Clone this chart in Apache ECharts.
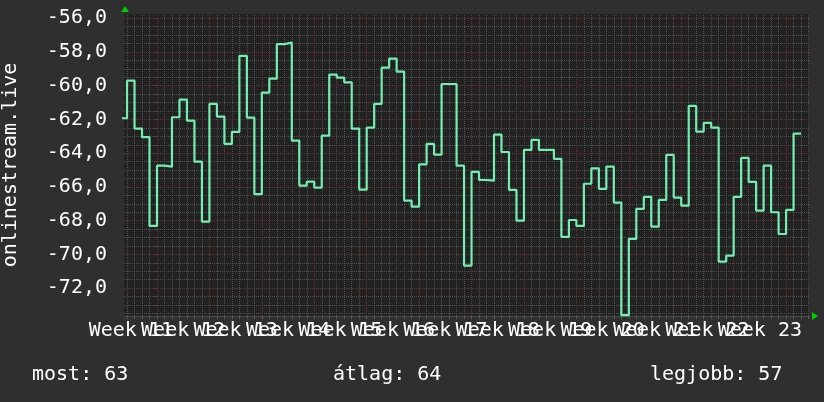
<!DOCTYPE html>
<html>
<head>
<meta charset="utf-8">
<script src="https://cdn.jsdelivr.net/npm/echarts@6/dist/echarts.min.js"></script>
<style>
html,body{margin:0;padding:0;background:#2f2f2f;}
#chart{width:824px;height:402px;}
</style>
</head>
<body>
<div id="chart"></div>
<script>
// Daily values (one per day), first value is day -5 relative to the start of Week 12
const startDay = -5;
const values = [
  -61.93, -59.70, -62.54, -63.05, -68.31,
  -64.74, -64.80, -61.87, -60.82, -62.07, -64.50, -68.06,
  -61.08, -61.83, -63.45, -62.74, -58.23, -61.89, -66.43,
  -60.41, -59.58, -57.54, -57.45, -63.25, -65.92, -65.69,
  -66.04, -62.96, -59.34, -59.52, -59.80, -62.54, -66.16,
  -62.48, -61.08, -58.93, -58.39, -59.16, -66.81, -67.17,
  -64.66, -63.45, -64.08, -59.90, -59.90, -64.74, -70.66,
  -65.11, -65.59, -65.63, -62.90, -63.93, -66.18, -68.00,
  -63.80, -63.21, -63.80, -63.80, -64.34, -68.96, -67.96,
  -68.31, -65.81, -64.90, -66.12, -64.80, -66.93, -73.60,
  -69.08, -67.30, -66.59, -68.35, -66.77, -64.10, -66.63,
  -67.11, -61.20, -62.72, -62.20, -62.48, -70.43, -70.07,
  -66.59, -64.28, -65.70, -67.40, -64.74, -67.50, -68.79,
  -67.36, -62.84
];
const weekNumbers = [11,12,13,14,15,16,17,18,19,20,21,22,23];
const yTickValues = [-72,-70,-68,-66,-64,-62,-60,-58,-56];
const footerTexts = ['most: 63', 'átlag: 64', 'legjobb: 57'];

const X_MIN = -4.406, X_MAX = 87.06;
const Y_MIN = -73.65, Y_MAX = -55.75;

// step data: each value holds for one day
const lineData = values.map((v, i) => [startDay + i, v]);
lineData.push([startDay + values.length, values[values.length - 1]]);

// week label positions (middle of each week; week 12 starts at day 0)
const weekMid = weekNumbers.map(w => (w - 12) * 7 + 3.5);
const weekLabelOf = {};
weekNumbers.forEach((w, i) => { weekLabelOf[weekMid[i].toFixed(1)] = 'Week ' + w; });
// split labels into two interleaved sets so the overlapping labels are all drawn
const midsA = weekMid.filter((_, i) => i % 2 === 0);
const midsB = weekMid.filter((_, i) => i % 2 === 1);

const weekBounds = [];
for (let d = -7; d <= 84; d += 7) if (d > X_MIN && d < X_MAX) weekBounds.push(d);
const dayLines = [];
for (let d = Math.ceil(X_MIN); d < X_MAX; d++) if (d % 7 !== 0) dayLines.push(d);
const yMinor = [];
for (let v = -73.5; v <= -55.75; v += 0.5) if (Math.abs(v % 2) > 0.01) yMinor.push(v);

const minorStyle = {color: '#505050', type: [1, 1], width: 1};
const majorStyle = {color: '#6e3030', type: [1, 1], width: 1};

const gridMarks = [];
yMinor.forEach(v => gridMarks.push({yAxis: v, lineStyle: minorStyle}));
dayLines.forEach(d => gridMarks.push({xAxis: d, lineStyle: minorStyle}));
yTickValues.forEach(v => gridMarks.push({yAxis: v, lineStyle: majorStyle}));
weekBounds.forEach(d => gridMarks.push({xAxis: d, lineStyle: majorStyle}));

const FONT = 'DejaVu Sans Mono';
const labelBase = {color: '#ffffff', fontFamily: FONT, fontSize: 20, margin: 5,
  interval: 0, hideOverlap: false, showMinLabel: true, showMaxLabel: true,
  formatter: v => weekLabelOf[Number(v).toFixed(1)] || ''};

const chart = echarts.init(document.getElementById('chart'), null, {renderer: 'canvas'});
chart.setOption({
  backgroundColor: '#2f2f2f',
  animation: false,
  grid: {left: 124, top: 14, width: 685, height: 302, show: true, backgroundColor: '#222222',
         borderWidth: 0, containLabel: false, outerBoundsMode: 'none'},
  xAxis: [
    {
      type: 'value', min: X_MIN, max: X_MAX,
      axisLine: {show: true, lineStyle: {color: '#4a4a4a', width: 1}},
      axisTick: {show: true, customValues: dayLines.concat(weekBounds), length: 3, lineStyle: {color: '#5a5a5a'}},
      splitLine: {show: false},
      axisLabel: Object.assign({customValues: midsA}, labelBase)
    },
    {
      type: 'value', min: X_MIN, max: X_MAX, position: 'bottom', offset: 0,
      axisLine: {show: false}, axisTick: {show: false}, splitLine: {show: false},
      axisLabel: Object.assign({customValues: midsB}, labelBase)
    }
  ],
  yAxis: {
    type: 'value', min: Y_MIN, max: Y_MAX,
    name: 'onlinestream.live', nameLocation: 'middle', nameRotate: 90, nameGap: 103,
    nameTextStyle: {color: '#ffffff', fontFamily: FONT, fontSize: 20},
    axisLine: {show: false},
    axisTick: {show: true, customValues: yMinor.concat(yTickValues), length: 3, lineStyle: {color: '#4a4a4a'}},
    splitLine: {show: false},
    axisLabel: {
      customValues: yTickValues, color: '#ffffff', fontFamily: FONT, fontSize: 20, margin: 17,
      interval: 0, showMinLabel: true, showMaxLabel: true,
      formatter: v => v.toFixed(1).replace('.', ',')
    }
  },
  series: [
    {
      type: 'line', data: [], silent: true, z: 1, xAxisIndex: 0,
      markLine: {silent: true, symbol: ['none', 'none'], label: {show: false}, animation: false, data: gridMarks}
    },
    {
      type: 'line', step: 'end', data: lineData, showSymbol: false, z: 5, clip: true, xAxisIndex: 0,
      lineStyle: {color: '#74eeb0', width: 2.2}
    }
  ],
  graphic: [
    {type: 'polygon', shape: {points: [[121, 12], [125, 6], [129, 12]]}, style: {fill: '#00cc00'}},
    {type: 'polygon', shape: {points: [[812, 312], [818, 316], [812, 320]]}, style: {fill: '#00cc00'}},
    {type: 'text', left: 32, top: 365, style: {text: footerTexts[0], fill: '#ffffff', font: '20px "DejaVu Sans Mono"'}},
    {type: 'text', left: 333, top: 365, style: {text: footerTexts[1], fill: '#ffffff', font: '20px "DejaVu Sans Mono"'}},
    {type: 'text', left: 650, top: 365, style: {text: footerTexts[2], fill: '#ffffff', font: '20px "DejaVu Sans Mono"'}}
  ]
});
</script>
</body>
</html>
